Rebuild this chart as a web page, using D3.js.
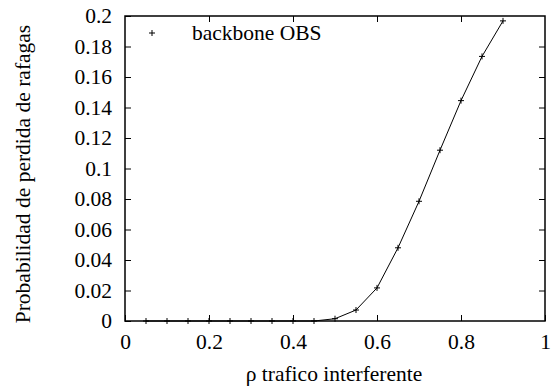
<!DOCTYPE html>
<html>
<head>
<meta charset="utf-8">
<script src="https://cdn.jsdelivr.net/npm/d3@7"></script>
<style>
  body { margin: 0; background: #fff; }
</style>
</head>
<body>
<svg id="chart" width="551" height="389"></svg>
<script>
// data
const rho = [0.05, 0.1, 0.15, 0.2, 0.25, 0.3, 0.35, 0.4, 0.45, 0.5, 0.55, 0.6, 0.65, 0.7, 0.75, 0.8, 0.85, 0.9];
const lossProb = [0, 0, 0, 0, 0, 0, 0, 0, 0, 0.0015, 0.0072, 0.0217, 0.048, 0.0785, 0.112, 0.1445, 0.1735, 0.1968];
const xTicks = [0, 0.2, 0.4, 0.6, 0.8, 1];
const yTicks = [0, 0.02, 0.04, 0.06, 0.08, 0.1, 0.12, 0.14, 0.16, 0.18, 0.2];
const seriesName = 'backbone OBS';

const FONT = 'Liberation Serif';
const FS = '21.5px';

const svg = d3.select('#chart');
const mLeft = 125, mRight = 545, mTop = 16, mBottom = 321;

const x = d3.scaleLinear().domain([0, 1]).range([mLeft, mRight]);
const y = d3.scaleLinear().domain([0, 0.2]).range([mBottom, mTop]);

const tickLen = 6;
const fmt = d => String(d);

const styleText = g => g.selectAll('text')
  .style('font-family', FONT).style('font-size', FS).attr('fill', '#000');

// axes: ticks point inward, mirrored on opposite sides
svg.append('g')
  .attr('transform', `translate(0,${mBottom})`)
  .call(d3.axisBottom(x).tickValues(xTicks).tickFormat(fmt).tickSize(-tickLen).tickPadding(13))
  .call(g => g.select('.domain').remove())
  .call(styleText);

svg.append('g')
  .attr('transform', `translate(0,${mTop})`)
  .call(d3.axisTop(x).tickValues(xTicks.slice(1, -1)).tickFormat('').tickSize(-tickLen))
  .call(g => g.select('.domain').remove());

svg.append('g')
  .attr('transform', `translate(${mLeft},0)`)
  .call(d3.axisLeft(y).tickValues(yTicks).tickFormat(fmt).tickSize(-tickLen).tickPadding(13))
  .call(g => g.select('.domain').remove())
  .call(styleText);

svg.append('g')
  .attr('transform', `translate(${mRight},0)`)
  .call(d3.axisRight(y).tickValues(yTicks.slice(1, -1)).tickFormat('').tickSize(-tickLen))
  .call(g => g.select('.domain').remove());

svg.selectAll('.tick line').attr('stroke', '#000');

// frame
svg.append('rect')
  .attr('x', mLeft).attr('y', mTop)
  .attr('width', mRight - mLeft).attr('height', mBottom - mTop)
  .attr('fill', 'none').attr('stroke', '#000').attr('stroke-width', 1.5);

// series line
const pts = rho.map((r, i) => [r, lossProb[i]]);
svg.append('path')
  .datum(pts)
  .attr('fill', 'none')
  .attr('stroke', '#000')
  .attr('stroke-width', 1)
  .attr('d', d3.line().x(d => x(d[0])).y(d => y(d[1])));

// "+" markers
const plus = (g, cx, cy) => {
  g.append('path')
    .attr('d', `M${cx - 3},${cy}H${cx + 3}M${cx},${cy - 3}V${cy + 3}`)
    .attr('stroke', '#000').attr('stroke-width', 1);
};
const mk = svg.append('g');
pts.forEach(d => plus(mk, x(d[0]), y(d[1])));

// legend
plus(svg, 152, 33);
svg.append('text')
  .attr('x', 192).attr('y', 40)
  .style('font-family', FONT).style('font-size', FS)
  .text(seriesName);

// axis titles
svg.append('text')
  .attr('x', 334).attr('y', 381)
  .attr('text-anchor', 'middle')
  .style('font-family', FONT).style('font-size', FS)
  .text('ρ trafico interferente');

svg.append('text')
  .attr('transform', `translate(30,174) rotate(-90)`)
  .attr('text-anchor', 'middle')
  .style('font-family', FONT).style('font-size', FS)
  .text('Probabilidad de perdida de rafagas');
</script>
</body>
</html>
